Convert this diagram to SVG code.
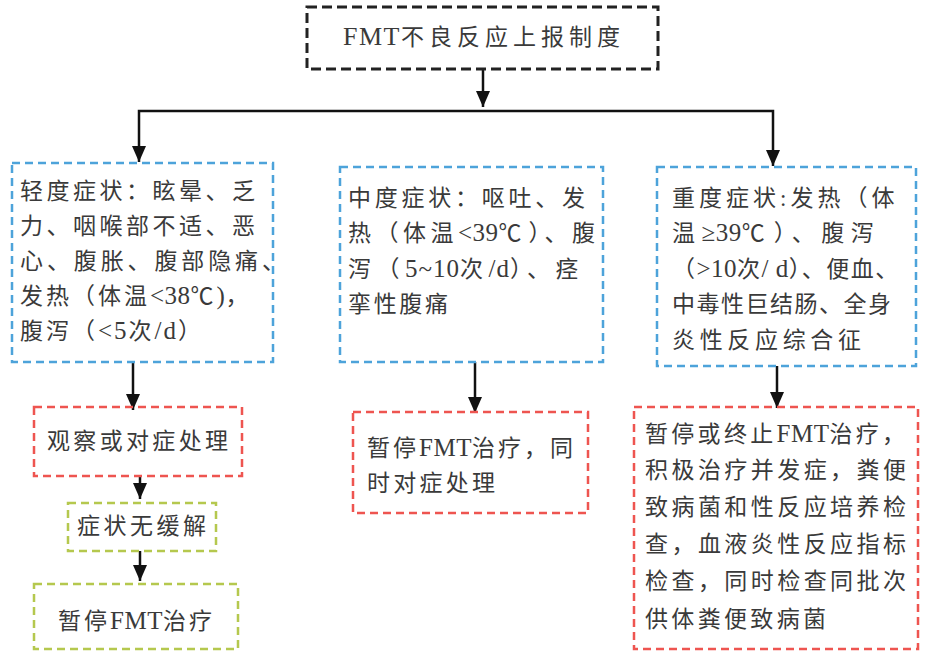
<svg xmlns="http://www.w3.org/2000/svg" width="931" height="660" viewBox="0 0 931 660">
<style>
.t{font-family:"Liberation Serif","Noto Sans CJK SC",serif;font-size:23px;fill:#3a3a3a;letter-spacing:3px}
.r{letter-spacing:4px}
.l{font-size:25px;letter-spacing:0.5px}
.cj{font-family:"Noto Sans CJK SC",sans-serif;letter-spacing:7px}
.b{fill:none;stroke-width:2.5}
.blk{stroke:#222;stroke-width:3;stroke-dasharray:10 5}
.blu{stroke:#4da3da;stroke-dasharray:8 5}
.red{stroke:#ee5550;stroke-dasharray:8 5}
.grn{stroke:#b5c84e;stroke-dasharray:8 5}
.c{fill:none;stroke:#111;stroke-width:2.5}
</style>
<defs>
<marker id="ah" viewBox="0 0 16 14" refX="16" refY="7" markerWidth="16" markerHeight="14" markerUnits="userSpaceOnUse" orient="auto">
<path d="M0,0 L16,7 L0,14 z" fill="#111"/>
</marker>
</defs>
<rect width="931" height="660" fill="#fff"/>
<g id="connectors">
<path class="c" d="M483,69 V107" marker-end="url(#ah)"/>
<path class="c" d="M483,111 H139 V162" marker-end="url(#ah)"/>
<path class="c" d="M483,111 H773 V166" marker-end="url(#ah)"/>
<path class="c" d="M133,362 V410" marker-end="url(#ah)"/>
<path class="c" d="M140,476 V499" marker-end="url(#ah)"/>
<path class="c" d="M140,551 V581" marker-end="url(#ah)"/>
<path class="c" d="M475,362 V413" marker-end="url(#ah)"/>
<path class="c" d="M777,366 V408" marker-end="url(#ah)"/>
</g>
<g id="top">
<rect class="b blk" x="307" y="7" width="351" height="62"/>
<text class="t" x="343" y="45" font-size="24" style="letter-spacing:5px"><tspan style="font-size:26px;letter-spacing:1.5px">FMT</tspan>不良反应上报制度</text>
</g>
<g id="mild">
<rect class="b blu" x="12" y="163" width="261" height="199"/>
<text class="t" x="20" y="199" textLength="238" lengthAdjust="spacing">轻度症状：眩晕、乏</text>
<text class="t" x="20" y="234" textLength="238" lengthAdjust="spacing">力、咽喉部不适、恶</text>
<text class="t" x="20" y="269" textLength="268" lengthAdjust="spacing">心、腹胀、腹部隐痛、</text>
<text class="t" x="20" y="304">发热（体温<tspan class="l">&lt;38</tspan><tspan class="cj" style="letter-spacing:3px">℃</tspan><tspan class="l">)</tspan>，</text>
<text class="t" x="20" y="339">腹泻（<tspan class="l" style="letter-spacing:2px">&lt;5</tspan>次<tspan class="l" style="letter-spacing:2px">/d</tspan>）</text>
</g>
<g id="moderate">
<rect class="b blu" x="340" y="167" width="263" height="195"/>
<text class="t" x="348" y="206" textLength="240" lengthAdjust="spacing">中度症状：呕吐、发</text>
<text class="t" x="348" y="241" style="letter-spacing:4.5px">热（体温<tspan class="l">&lt;39</tspan><tspan class="cj">℃</tspan>）、腹</text>
<text class="t" x="348" y="277" style="letter-spacing:5.5px">泻（<tspan class="l" style="letter-spacing:1px">5~10</tspan>次<tspan class="l" style="letter-spacing:1px">/d</tspan>）、痉</text>
<text class="t" x="348" y="312" textLength="103" lengthAdjust="spacing">挛性腹痛</text>
</g>
<g id="severe">
<rect class="b blu" x="657" y="167" width="259" height="199"/>
<text class="t r" x="672" y="206">重度症状:发热（体</text>
<text class="t" x="672" y="241" style="letter-spacing:6.5px">温<tspan class="l">≥39</tspan><tspan class="cj" style="letter-spacing:9px">℃</tspan>）、腹泻</text>
<text class="t" x="672" y="277" style="letter-spacing:1.5px">（<tspan class="l">&gt;10</tspan>次<tspan class="l">/ d</tspan>）、便血、</text>
<text class="t" x="672" y="312" textLength="222" lengthAdjust="spacing">中毒性巨结肠、全身</text>
<text class="t" x="672" y="348" textLength="192" lengthAdjust="spacing">炎性反应综合征</text>
</g>
<g id="observe">
<rect class="b red" x="34" y="407" width="208" height="69"/>
<text class="t" x="47" y="449" textLength="184" lengthAdjust="spacing">观察或对症处理</text>
</g>
<g id="norelief">
<rect class="b grn" x="68" y="503" width="148" height="48"/>
<text class="t" x="77" y="534" textLength="132" lengthAdjust="spacing">症状无缓解</text>
</g>
<g id="pause">
<rect class="b grn" x="34" y="584" width="204" height="65"/>
<text class="t" x="58" y="629">暂停<tspan class="l">FMT</tspan>治疗</text>
</g>
<g id="pause2">
<rect class="b red" x="353" y="412" width="235" height="101"/>
<text class="t" x="367" y="456">暂停<tspan class="l">FMT</tspan>治疗，同</text>
<text class="t" x="367" y="491" textLength="131" lengthAdjust="spacing">时对症处理</text>
</g>
<g id="stop">
<rect class="b red" x="634" y="407" width="284" height="242"/>
<text class="t" x="645" y="442" style="letter-spacing:3.3px">暂停或终止<tspan class="l">FMT</tspan>治疗，</text>
<text class="t" x="645" y="478" textLength="264" lengthAdjust="spacing">积极治疗并发症，粪便</text>
<text class="t" x="645" y="515" textLength="264" lengthAdjust="spacing">致病菌和性反应培养检</text>
<text class="t" x="645" y="552" textLength="264" lengthAdjust="spacing">查，血液炎性反应指标</text>
<text class="t" x="645" y="589" textLength="264" lengthAdjust="spacing">检查，同时检查同批次</text>
<text class="t" x="645" y="627" textLength="184" lengthAdjust="spacing">供体粪便致病菌</text>
</g>
</svg>
